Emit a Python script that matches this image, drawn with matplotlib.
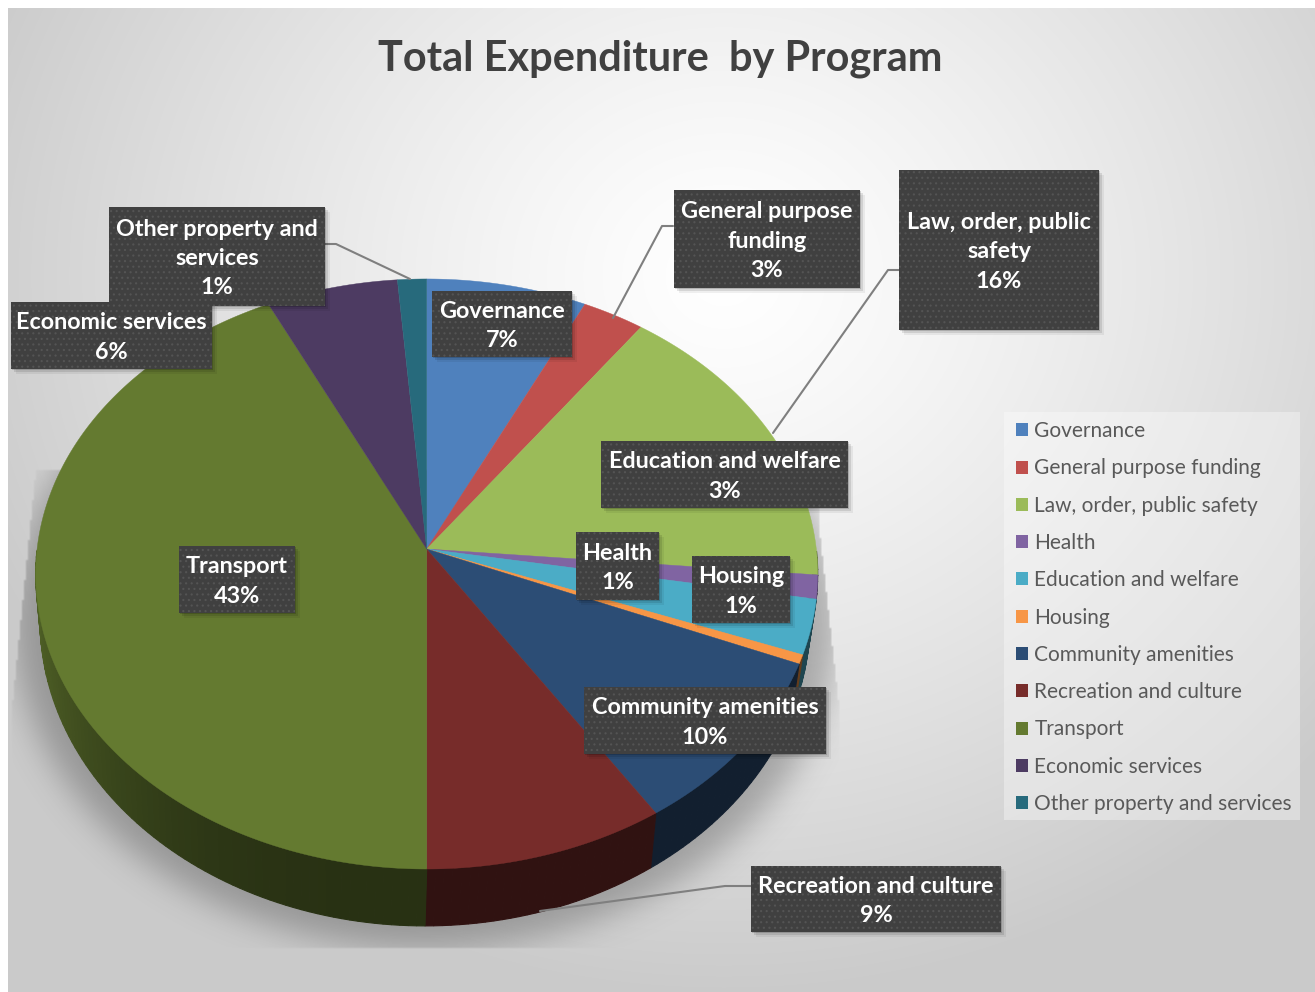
import numpy as np
import matplotlib
matplotlib.use("Agg")
import matplotlib.pyplot as plt
from matplotlib.patches import Polygon, Rectangle, Patch
from matplotlib.colors import to_rgb
from matplotlib.path import Path

# ---------- data ----------
categories = ["Governance", "General purpose funding", "Law, order, public safety",
              "Health", "Education and welfare", "Housing", "Community amenities",
              "Recreation and culture", "Transport", "Economic services",
              "Other property and services"]
values = [7.2, 2.8, 16.4, 1.3, 3.0, 0.5, 9.6, 9.2, 42.8, 5.9, 1.3]
percent_labels = ["7%", "3%", "16%", "1%", "3%", "1%", "10%", "9%", "43%", "6%", "1%"]
label_names = ["Governance", "General purpose\nfunding", "Law, order, public\nsafety",
               "Health", "Education and welfare", "Housing", "Community amenities",
               "Recreation and culture", "Transport", "Economic services",
               "Other property and\nservices"]
colors = ["#4F81BD", "#C0504D", "#9BBB59", "#8064A2", "#4BACC6", "#F79646",
          "#2C4D75", "#772C2A", "#647A30", "#4D3B62", "#276A7C"]
title = "Total Expenditure  by Program"

# ---------- layout (pixels) ----------
W, H = 1315, 992
boxes = [(432, 291, 572, 357), (674, 190, 860, 288), (899, 170, 1099, 330),
         (576, 532, 659, 600), (601, 441, 848, 508), (692, 556, 790, 623),
         (584, 687, 826, 754), (751, 866, 1001, 932), (179, 546, 295, 613),
         (11, 302, 212, 369), (109, 207, 325, 306)]
leaders = [[(325, 244), (336, 244), (410, 279)],
           [(673, 226), (662, 226), (613, 318)],
           [(899, 270), (888, 270), (773, 433)],
           [(751, 886), (725, 886), (540, 911)]]
K = 0.0847


def rim(t, cx, cy, b, a):
    w = 1 + K * np.cos(t)
    return np.column_stack([cx + b * np.sin(t) / w, cy - a * np.cos(t) / w])


def top_rim(t):
    return rim(t, 426.7, 549, 389.6, 292.9)


def bottom_rim(t):
    return rim(t, 425, 594, 383.6, 303.8)


def blur(a, sigma):
    fy = np.fft.fftfreq(a.shape[0])[:, None]
    fx = np.fft.rfftfreq(a.shape[1])[None, :]
    g = np.exp(-2 * (np.pi * sigma) ** 2 * (fx ** 2 + fy ** 2))
    return np.fft.irfft2(np.fft.rfft2(a) * g, s=a.shape)


plt.rcParams["font.family"] = ["Lato", "DejaVu Sans"]
plt.rcParams["hatch.linewidth"] = 0.8
fig = plt.figure(figsize=(W / 100, H / 100), dpi=100)
ax = fig.add_axes([0, 0, 1, 1])
ax.set_axis_off()

# background gradient
yy, xx = np.mgrid[0:H, 0:W]
r = np.hypot((xx - 720) / 800, (yy - 270) / 720)
shade = 1 - 0.205 * np.clip(r, 0, 1) ** 1.25
ax.imshow(np.dstack([shade] * 3), extent=(8, W, H, 8), zorder=0, aspect="auto",
          interpolation="bilinear")

# angles from values
fractions = np.array(values) / np.sum(values)
edges = np.concatenate([[0], np.cumsum(fractions)]) * 2 * np.pi

# soft pie shadow, cut off by straight edges as in the reference
tt = np.linspace(0, 2 * np.pi, 721)
gx, gy = np.meshgrid(np.arange(0, W, 2), np.arange(0, H, 2))
pts = np.column_stack([gx.ravel(), gy.ravel()])
outline = (bottom_rim(tt) - [427, 620]) * 1.07 + [427, 620]
m = Path(outline).contains_points(pts) | Path(top_rim(tt)).contains_points(pts)
mask = blur(m.reshape(gx.shape).astype(float), 8)
sh = np.zeros(mask.shape + (4,))
sh[..., :3] = 0.2
alpha = 0.34 * mask
left_edge = np.clip(35 - (gy - 470) * 23 / 230, 12, 35)
right_edge = np.clip(818 + (gy - 520) * 20 / 180, 818, 838)
alpha[(gy > 947) | (gx < left_edge) | (gx > right_edge) | (gy < 470)] = 0
sh[..., 3] = alpha
ax.imshow(sh, extent=(0, W, H, 0), zorder=1, aspect="auto", interpolation="bilinear")

# side wall (front half only), then top
for c, t0, t1 in zip(colors, edges[:-1], edges[1:]):
    n = max(2, int((t1 - t0) / 0.02))
    ts = np.linspace(t0, t1, n + 1)
    base = np.array(to_rgb(c))
    for a, b in zip(ts[:-1], ts[1:]):
        if np.cos((a + b) / 2) > 0:
            continue
        seg = np.array([a, b])
        poly = np.vstack([top_rim(seg), bottom_rim(seg[::-1])])
        f = 0.40 + 0.38 * max(0.0, -np.sin((a + b) / 2)) ** 3
        col = tuple(base * f)
        ax.add_patch(Polygon(poly, closed=True, fc=col, ec=col, lw=0.8, zorder=2))

handles = []
for c, name, t0, t1 in zip(colors, categories, edges[:-1], edges[1:]):
    ts = np.linspace(t0, t1, max(3, int((t1 - t0) * 120)))
    poly = np.vstack([[[426.7, 549]], top_rim(ts)])
    ax.add_patch(Polygon(poly, closed=True, fc=c, ec=c, lw=0.3, zorder=3))
    handles.append(Patch(fc=c, ec="none", label=name))

# leaders
for pts_ in leaders:
    p = np.array(pts_)
    ax.plot(p[:, 0], p[:, 1], color="#7f7f7f", lw=1.5, zorder=4, solid_capstyle="round")

# labels
for (x0, y0, x1, y1), name, pct in zip(boxes, label_names, percent_labels):
    for d, al in ((7, .06), (5, .10), (3, .16)):
        ax.add_patch(Rectangle((x0 + d - 2, y0 + d - 2), x1 - x0, y1 - y0, fc="k", ec="none",
                               alpha=al, zorder=5))
    ax.add_patch(Rectangle((x0, y0), x1 - x0, y1 - y0, fc="#404040", ec="#545454", lw=0,
                           hatch="...", zorder=6))
    ax.text((x0 + x1) / 2, (y0 + y1) / 2 + 2, f"{name}\n{pct}", color="white", fontsize=16.8,
            fontweight="bold", ha="center", va="center", linespacing=1.5, zorder=7)

# legend panel and legend
ax.add_patch(Rectangle((1004, 412), 296, 408, fc="white", ec="none", alpha=0.35, zorder=7))
leg = ax.legend(handles=handles, loc="upper left", bbox_to_anchor=(1004 / W, 1 - 409 / H),
                bbox_transform=fig.transFigure, frameon=False, fontsize=15,
                labelcolor="#595959", handlelength=0.58, handleheight=0.58,
                handletextpad=0.3, labelspacing=0.83, borderaxespad=0, borderpad=0.58)
leg.set_zorder(8)

# title
ax.text(660.5, 59, title, color="#404040", fontsize=29.9, fontweight="bold",
        ha="center", va="center", zorder=8)

ax.set_xlim(0, W)
ax.set_ylim(H, 0)
fig.savefig("out.png", dpi=100, facecolor="white")
